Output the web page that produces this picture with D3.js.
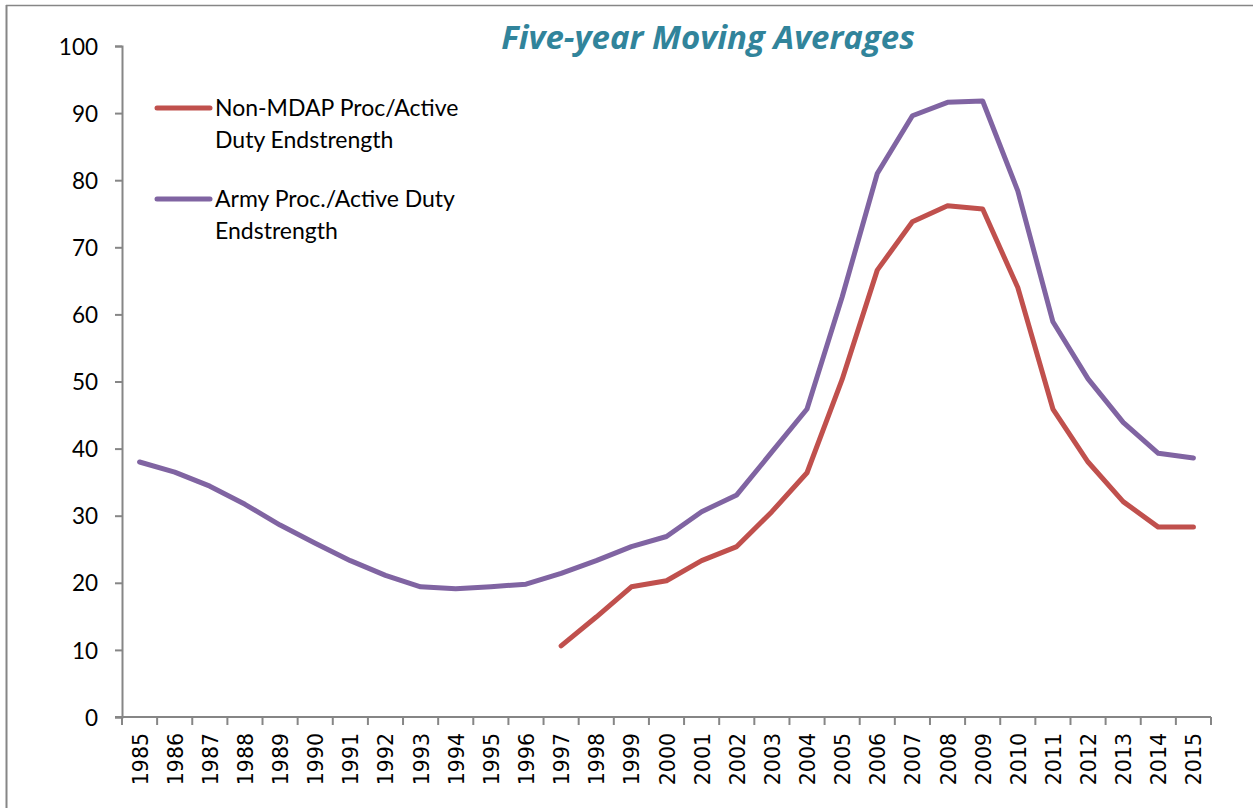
<!DOCTYPE html>
<html>
<head>
<meta charset="utf-8">
<script src="https://cdn.jsdelivr.net/npm/d3@7"></script>
<style>
  html, body { margin: 0; padding: 0; background: #fff; }
  svg { display: block; }
  .ylab { font-family: Lato, "Open Sans", sans-serif; font-size: 22.5px; fill: #000; }
  .xlab { font-family: "DejaVu Sans", sans-serif; font-size: 20.5px; fill: #000; }
  .legendText { font-family: Lato, "Open Sans", sans-serif; font-size: 23px; fill: #000; }
  .chartTitle { font-family: "Open Sans", Lato, sans-serif; font-size: 33px; font-weight: bold; font-style: italic; fill: #31849b; }
</style>
</head>
<body>
<div id="chart"></div>
<script>

// years on the x axis
var years = [1985, 1986, 1987, 1988, 1989, 1990, 1991, 1992, 1993, 1994,
             1995, 1996, 1997, 1998, 1999, 2000, 2001, 2002, 2003, 2004,
             2005, 2006, 2007, 2008, 2009, 2010, 2011, 2012, 2013, 2014, 2015];

// Non-MDAP Proc / Active Duty Endstrength (starts 1997)
var nonMdapValues = [null, null, null, null, null, null, null, null, null, null,
                     null, null, 10.6, 14.9, 19.4, 20.3, 23.3, 25.4, 30.6, 36.4,
                     50.3, 66.6, 73.8, 76.2, 75.7, 64.0, 45.9, 38.0, 32.1, 28.3, 28.3];

// Army Proc. / Active Duty Endstrength
var armyValues = [38.0, 36.5, 34.4, 31.7, 28.6, 25.9, 23.3, 21.1, 19.4, 19.1,
                  19.4, 19.8, 21.4, 23.3, 25.4, 26.9, 30.6, 33.1, 39.5, 45.9,
                  62.6, 81.0, 89.6, 91.6, 91.8, 78.4, 58.9, 50.4, 43.9, 39.3, 38.6];

var yTicks = [0, 10, 20, 30, 40, 50, 60, 70, 80, 90, 100];

var seriesNames = [["Non-MDAP Proc/Active", "Duty Endstrength"],
                   ["Army Proc./Active Duty", "Endstrength"]];
var colors = ["#c0504d", "#8064a2"];

var width = 1253, height = 808;
var margin = { left: 122, right: 42, top: 46, bottom: 91 };

var svg = d3.select('#chart').append('svg')
  .attr('width', width)
  .attr('height', height);

// chart area border (only top and left show in the crop)
svg.append('line')
  .attr('x1', 6).attr('x2', width).attr('y1', 5.5).attr('y2', 5.5)
  .attr('stroke', '#868686').attr('stroke-width', 1.5);
svg.append('line')
  .attr('x1', 6.5).attr('x2', 6.5).attr('y1', 5).attr('y2', height)
  .attr('stroke', '#868686').attr('stroke-width', 2);

var x = d3.scaleBand()
  .domain(years)
  .range([margin.left, width - margin.right]);

var y = d3.scaleLinear()
  .domain([0, 100])
  .range([height - margin.bottom, margin.top]);

// y axis
var yAxis = svg.append('g')
  .attr('transform', 'translate(' + margin.left + ',0)')
  .call(d3.axisLeft(y).tickValues(yTicks).tickSize(7).tickPadding(17).tickFormat(d3.format('d')));
yAxis.select('.domain').attr('stroke', '#868686').attr('stroke-width', 2);
yAxis.selectAll('.tick line').attr('stroke', '#868686').attr('stroke-width', 2);
yAxis.selectAll('.tick text')
  .attr('class', 'ylab')
  .attr('dy', '0.36em')
  .attr('font-family', null).attr('font-size', null);

// x axis with ticks between categories
var xAxisG = svg.append('g')
  .attr('transform', 'translate(0,' + y(0) + ')');
xAxisG.append('line')
  .attr('x1', margin.left - 7).attr('x2', width - margin.right)
  .attr('stroke', '#868686').attr('stroke-width', 2);
var boundaries = years.map(function (yr) { return x(yr); }).concat([x(years[years.length - 1]) + x.bandwidth()]);
xAxisG.selectAll('.xtick')
  .data(boundaries)
  .enter()
  .append('line')
  .attr('class', 'xtick')
  .attr('x1', function (d) { return d; })
  .attr('x2', function (d) { return d; })
  .attr('y1', 0).attr('y2', 8)
  .attr('stroke', '#868686').attr('stroke-width', 2);
xAxisG.selectAll('.xlab')
  .data(years)
  .enter()
  .append('text')
  .attr('class', 'xlab')
  .attr('text-anchor', 'end')
  .attr('transform', function (d) {
    return 'translate(' + (x(d) + x.bandwidth() / 2 + 8) + ',16) rotate(-90)';
  })
  .text(function (d) { return d; });

// lines
var line = d3.line()
  .defined(function (d) { return d != null; })
  .x(function (d, i) { return x(years[i]) + x.bandwidth() / 2; })
  .y(function (d) { return y(d); });

svg.selectAll('.seriesLine')
  .data([nonMdapValues, armyValues])
  .enter()
  .append('path')
  .attr('class', 'seriesLine')
  .attr('fill', 'none')
  .attr('stroke', function (_, i) { return colors[i]; })
  .attr('stroke-width', 5)
  .attr('stroke-linejoin', 'round')
  .attr('stroke-linecap', 'round')
  .attr('d', line);

// legend
var legend = svg.append('g');
var legendItems = legend.selectAll('.legendItem')
  .data(seriesNames)
  .enter()
  .append('g')
  .attr('class', 'legendItem')
  .attr('transform', function (_, i) { return 'translate(0,' + (108 + i * 91) + ')'; });
legendItems.append('line')
  .attr('x1', 157).attr('x2', 210)
  .attr('stroke', function (_, i) { return colors[i]; })
  .attr('stroke-width', 5)
  .attr('stroke-linecap', 'round');
legendItems.append('text')
  .attr('class', 'legendText')
  .selectAll('tspan')
  .data(function (d) { return d; })
  .enter()
  .append('tspan')
  .attr('x', 215)
  .attr('y', function (_, j) { return 8 + j * 32; })
  .text(function (d) { return d; });

// title
svg.append('text')
  .attr('class', 'chartTitle')
  .attr('x', 708)
  .attr('y', 49)
  .attr('text-anchor', 'middle')
  .text('Five-year Moving Averages');

</script>
</body>
</html>
